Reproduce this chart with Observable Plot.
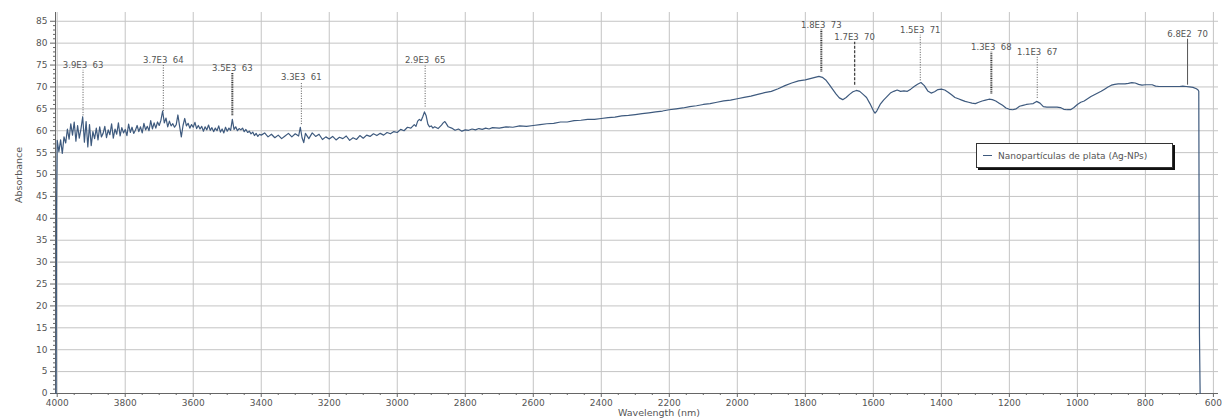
<!DOCTYPE html>
<html>
<head>
<meta charset="utf-8">
<script src="https://cdn.jsdelivr.net/npm/d3@7"></script>
<script src="https://cdn.jsdelivr.net/npm/@observablehq/plot@0.6"></script>
<style>
  html, body { margin: 0; padding: 0; background: #fff; }
  #wrap { position: relative; width: 1225px; height: 420px; }
  #legend {
    position: absolute; left: 976px; top: 143px; width: 197px; height: 25px;
    border: 1px solid #333; background: #fff; box-shadow: 2px 2px 0 #111;
    font: 9px "DejaVu Sans", sans-serif; color: #555; display: flex; align-items: center;
    box-sizing: border-box; padding-left: 6px; white-space: nowrap;
  }
  #legend .sw { display: inline-block; width: 9px; height: 0; border-top: 1px solid #3e5a7e; margin-right: 6px; }
</style>
</head>
<body>
<div id="wrap"></div>
<script>
// ---- Data ----
const seriesName = "Nanopartículas de plata (Ag-NPs)";

// left edge and noisy region, 4000–3400 nm
const spectrumNoisy = [
  [4003, 0], [4002, 42], [4000, 57.8], [3995, 55.2], [3990, 57.9], [3985, 54.8], [3980, 58.6],
  [3975, 57.2], [3970, 60.4], [3965, 58.1], [3960, 61.6], [3955, 59.0], [3950, 62.0],
  [3945, 57.6], [3940, 61.2], [3935, 58.3], [3930, 60.5], [3925, 63.2], [3920, 57.4],
  [3915, 62.1], [3910, 56.3], [3905, 61.4], [3900, 56.6], [3895, 59.8], [3890, 58.2],
  [3885, 60.6], [3880, 57.9], [3875, 60.9], [3870, 58.6], [3865, 59.4], [3860, 61.0],
  [3855, 58.4], [3850, 60.2], [3845, 59.1], [3840, 61.6], [3835, 58.3], [3830, 60.4],
  [3825, 59.2], [3820, 61.8], [3815, 58.8], [3810, 60.7], [3805, 59.5], [3800, 60.3],
  [3795, 58.9], [3790, 61.5], [3785, 59.6], [3780, 60.8], [3775, 59.4], [3770, 60.1],
  [3765, 61.2], [3760, 59.8], [3755, 60.9], [3750, 59.5], [3745, 61.7], [3740, 60.2],
  [3735, 61.0], [3730, 60.0], [3725, 62.3], [3720, 60.4], [3715, 61.8], [3710, 60.6],
  [3705, 62.0], [3700, 61.2], [3695, 62.4], [3690, 64.5], [3685, 61.8], [3680, 62.9],
  [3675, 60.9], [3670, 62.2], [3665, 61.1], [3660, 61.6], [3655, 60.8], [3650, 61.4],
  [3645, 63.6], [3640, 61.0], [3635, 58.6], [3630, 61.2], [3625, 62.8], [3620, 61.1],
  [3615, 61.7], [3610, 60.6], [3605, 61.4], [3600, 60.8], [3595, 61.9], [3590, 60.5],
  [3585, 61.2], [3580, 60.4], [3575, 61.0], [3570, 59.9], [3565, 60.9], [3560, 60.2],
  [3555, 61.3], [3550, 60.1], [3545, 60.7], [3540, 59.8], [3535, 60.6], [3530, 60.0],
  [3525, 61.1], [3520, 59.7], [3515, 60.4], [3510, 59.5], [3505, 60.8], [3500, 59.9],
  [3495, 60.6], [3490, 60.1], [3485, 62.6], [3480, 60.3], [3475, 60.9], [3470, 60.0],
  [3465, 60.5], [3460, 60.2], [3455, 60.6], [3450, 59.8], [3445, 60.3], [3440, 59.6],
  [3435, 59.9], [3430, 59.3], [3425, 59.7], [3420, 58.9], [3415, 59.4], [3410, 58.7],
  [3405, 59.2], [3400, 59.0]
];

// 3400–2700 nm
const spectrumMid = [
  [3390, 59.5], [3380, 58.6], [3370, 59.2], [3360, 58.4], [3350, 59.0], [3340, 58.2],
  [3330, 58.8], [3320, 59.4], [3310, 58.6], [3300, 59.3], [3290, 58.8], [3285, 60.8],
  [3280, 58.4], [3275, 57.3], [3270, 59.4], [3260, 58.2], [3250, 59.5], [3240, 58.7],
  [3230, 59.2], [3220, 58.0], [3210, 58.6], [3200, 58.1], [3190, 58.7], [3180, 57.9],
  [3170, 58.5], [3160, 58.2], [3150, 58.8], [3140, 57.8], [3130, 58.4], [3120, 58.0],
  [3110, 58.9], [3100, 58.3], [3090, 59.0], [3080, 58.7], [3070, 59.3], [3060, 58.9],
  [3050, 59.4], [3040, 59.0], [3030, 59.6], [3020, 59.3], [3010, 59.8], [3000, 59.6],
  [2990, 60.3], [2980, 60.0], [2970, 60.8], [2960, 60.6], [2950, 61.4], [2945, 61.0],
  [2940, 62.2], [2935, 62.6], [2930, 62.3], [2925, 63.2], [2920, 64.3], [2915, 63.4],
  [2910, 61.5], [2905, 60.9], [2900, 61.1], [2895, 60.6], [2890, 60.9], [2880, 60.5],
  [2870, 61.3], [2865, 61.8], [2860, 62.1], [2855, 61.5], [2850, 60.9], [2840, 60.6],
  [2830, 60.1], [2820, 60.4], [2810, 59.9], [2800, 60.2], [2790, 60.1], [2780, 60.4],
  [2770, 60.2], [2760, 60.5], [2750, 60.3], [2740, 60.6], [2730, 60.4], [2720, 60.7]
];

// 2700–1800 nm, slow rise
const spectrumRise = [
  [2700, 60.6], [2680, 60.9], [2660, 60.8], [2640, 61.1], [2620, 61.0], [2600, 61.2],
  [2580, 61.4], [2560, 61.6], [2540, 61.7], [2520, 62.0], [2500, 62.0], [2480, 62.3],
  [2460, 62.4], [2440, 62.6], [2420, 62.6], [2400, 62.8], [2380, 63.0], [2360, 63.1],
  [2340, 63.4], [2320, 63.5], [2300, 63.7], [2280, 63.9], [2260, 64.1], [2240, 64.3],
  [2220, 64.5], [2200, 64.8], [2180, 65.0], [2160, 65.2], [2140, 65.5], [2120, 65.7],
  [2100, 66.0], [2080, 66.2], [2060, 66.5], [2040, 66.8], [2020, 67.0], [2000, 67.3],
  [1980, 67.6], [1960, 67.9], [1940, 68.3], [1920, 68.7], [1900, 69.0], [1880, 69.6],
  [1860, 70.3], [1840, 70.9], [1820, 71.4], [1800, 71.6], [1780, 72.0]
];

// 1800–636 nm, bands and cut-off
const spectrumBands = [
  [1760, 72.4], [1750, 72.2], [1740, 71.6], [1730, 70.6], [1720, 69.5], [1710, 68.4],
  [1700, 67.5], [1690, 67.1], [1680, 67.6], [1670, 68.3], [1660, 68.9], [1650, 69.2],
  [1640, 69.0], [1630, 68.3], [1620, 67.6], [1610, 66.2], [1600, 64.6], [1595, 64.0],
  [1590, 64.5], [1580, 66.0], [1570, 67.0], [1560, 67.8], [1550, 68.6], [1540, 69.0],
  [1530, 69.3], [1520, 69.0], [1510, 69.1], [1500, 69.0], [1490, 69.5], [1480, 70.1],
  [1470, 70.6], [1460, 71.0], [1450, 70.3], [1440, 69.1], [1430, 68.6], [1420, 68.9],
  [1410, 69.4], [1400, 69.5], [1390, 69.3], [1380, 68.8], [1370, 68.2], [1360, 67.6],
  [1350, 67.3], [1340, 67.0], [1330, 66.7], [1320, 66.5], [1310, 66.3], [1300, 66.2],
  [1290, 66.5], [1280, 66.8], [1270, 67.0], [1260, 67.2], [1250, 67.1], [1240, 66.8],
  [1230, 66.3], [1220, 65.8], [1210, 65.2], [1200, 64.9], [1190, 64.8], [1180, 65.0],
  [1170, 65.6], [1160, 65.8], [1150, 66.0], [1140, 66.1], [1130, 66.2], [1120, 66.7],
  [1110, 66.3], [1100, 65.5], [1090, 65.4], [1080, 65.4], [1070, 65.4], [1060, 65.4],
  [1050, 65.3], [1040, 64.9], [1030, 64.8], [1020, 64.8], [1010, 65.3], [1000, 66.0],
  [990, 66.5], [980, 66.8], [970, 67.3], [960, 67.8], [950, 68.2], [940, 68.6],
  [930, 69.0], [920, 69.5], [910, 70.0], [900, 70.4], [890, 70.6], [880, 70.7],
  [870, 70.7], [860, 70.7], [850, 70.8], [840, 71.0], [830, 70.9], [820, 70.6],
  [810, 70.4], [800, 70.5], [790, 70.5], [780, 70.5], [770, 70.2], [760, 70.1],
  [740, 70.1], [720, 70.1], [700, 70.1], [690, 70.2], [680, 70.1], [670, 70.0],
  [660, 69.9], [650, 69.6], [645, 69.3], [643, 69.0], [641, 13.5], [639, 0]
];

// peak annotations
const annLabel = ["3.9E3", "3.7E3", "3.5E3", "3.3E3", "2.9E3", "1.8E3", "1.7E3", "1.5E3", "1.3E3", "1.1E3", "6.8E2"];
const annWavelength = [3924, 3688, 3485, 3282, 2918, 1753, 1655, 1462, 1253, 1118, 676];
const annValue = [63, 64, 63, 61, 65, 73, 70, 71, 68, 67, 70];
const annTop = [73.8, 75.0, 73.1, 71.1, 75.0, 83.0, 80.2, 81.8, 77.9, 76.8, 80.9];

// ticks
const xTicks = [4000, 3800, 3600, 3400, 3200, 3000, 2800, 2600, 2400, 2200, 2000, 1800, 1600, 1400, 1200, 1000, 800, 600];
const yTicks = [0, 5, 10, 15, 20, 25, 30, 35, 40, 45, 50, 55, 60, 65, 70, 75, 80, 85];
const xLabel = "Wavelength (nm)";
const yLabel = "Absorbance";

// ---- Build ----
const spectrum = [...spectrumNoisy, ...spectrumMid, ...spectrumRise, ...spectrumBands]
  .map(([wl, a]) => ({wl, a}));
const ann = annLabel.map((label, i) => ({
  label, wl: annWavelength[i], value: annValue[i], top: annTop[i],
  text: label + "\u00a0\u00a0" + annValue[i]
}));
const xMinor = d3.range(4000, 599, -50).filter(v => !xTicks.includes(v));
const yMinor = d3.range(0, 86, 1).filter(v => !yTicks.includes(v));
const xDomain = [4005, 585];

const dense = new Set(["3.5E3", "1.8E3", "1.3E3"]);
const dashed = new Set(["1.7E3"]);
const solid = new Set(["6.8E2"]);
const dotted = ann.filter(d => !dense.has(d.label) && !dashed.has(d.label) && !solid.has(d.label));

const lineColor = "#3e5a7e";
const leaderColor = "#555";
const fmt = d => String(d);

const chart = Plot.plot({
  width: 1225, height: 420,
  marginLeft: 55, marginRight: 7, marginTop: 12, marginBottom: 27,
  style: {fontFamily: "DejaVu Sans, sans-serif", fontSize: "9px", color: "#555", background: "#fff", overflow: "visible"},
  x: {domain: xDomain, label: null},
  y: {domain: [0, 87], label: null},
  marks: [
    Plot.gridX(xTicks, {stroke: "#c4c4c4", strokeOpacity: 1}),
    Plot.gridY(yTicks, {stroke: "#c4c4c4", strokeOpacity: 1}),
    Plot.ruleY([0], {stroke: "#666"}),
    Plot.ruleX([xDomain[0]], {stroke: "#666"}),
    Plot.axisX(xMinor, {tickSize: 2, text: null, stroke: "#666"}),
    Plot.axisX(xTicks, {tickSize: 4, tickPadding: 2, stroke: "#666", fill: "#555", label: null, tickFormat: fmt}),
    Plot.axisY(yMinor, {tickSize: 2, text: null, stroke: "#666"}),
    Plot.axisY(yTicks, {tickSize: 5, tickPadding: 3, stroke: "#666", fill: "#555", label: null, tickFormat: fmt}),
    Plot.text([xLabel], {frameAnchor: "bottom", dx: 22, dy: 22, fill: "#555", fontSize: 9.5}),
    Plot.text([yLabel], {frameAnchor: "left", dx: -37, rotate: -90, fill: "#555", fontSize: 9.5}),
    Plot.ruleX(dotted, {x: "wl", y1: d => d.value + 0.4, y2: "top", stroke: leaderColor, strokeWidth: 1, strokeDasharray: "1,1.5"}),
    Plot.ruleX(ann.filter(d => dense.has(d.label)), {x: "wl", y1: d => d.value + 0.4, y2: "top", stroke: "#333", strokeWidth: 2, strokeDasharray: "1,0.8"}),
    Plot.ruleX(ann.filter(d => dashed.has(d.label)), {x: "wl", y1: d => d.value + 0.4, y2: "top", stroke: "#444", strokeWidth: 1.3, strokeDasharray: "3,1.5"}),
    Plot.ruleX(ann.filter(d => solid.has(d.label)), {x: "wl", y1: d => d.value + 0.4, y2: "top", stroke: "#555", strokeWidth: 1}),
    Plot.text(ann, {x: "wl", y: "top", text: "text", lineAnchor: "bottom", dy: -2, fill: "#555", fontSize: 8.5}),
    Plot.line(spectrum, {x: "wl", y: "a", stroke: lineColor, strokeWidth: 1.2, curve: "linear"})
  ]
});

const wrap = document.getElementById("wrap");
wrap.appendChild(chart);
const legend = document.createElement("div");
legend.id = "legend";
legend.innerHTML = '<span class="sw"></span><span></span>';
legend.lastChild.textContent = seriesName;
wrap.appendChild(legend);
</script>
</body>
</html>
